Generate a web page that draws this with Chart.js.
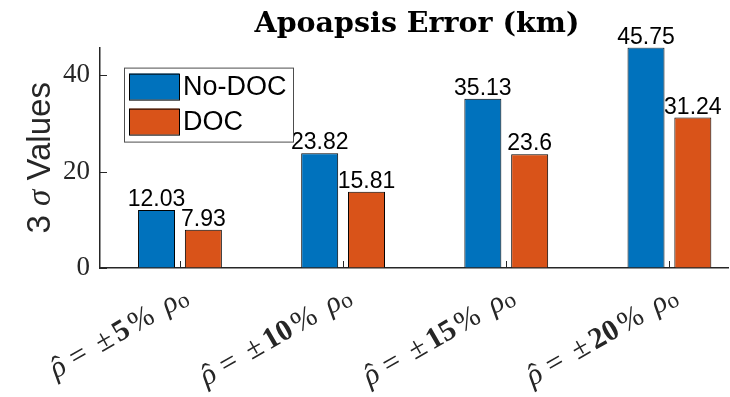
<!DOCTYPE html>
<html>
<head>
<meta charset="utf-8">
<script src="https://cdn.jsdelivr.net/npm/chart.js@4.4.0/dist/chart.umd.min.js"></script>
<style>
  html, body { margin: 0; padding: 0; background: #fff; }
</style>
</head>
<body>
<canvas id="bar-chart" width="730" height="397"></canvas>
<script>
const CHART = document.getElementById("bar-chart");

// data
const percents = ['5', '10', '15', '20'];
const seriesNames = ['No-DOC', 'DOC'];
const noDoc = [12.03, 23.82, 35.13, 45.75];
const doc = [7.93, 15.81, 23.6, 31.24];
const yTicks = [0, 20, 40];

const colors = ['#0072BD', '#D95319'];
const AXIS = '#262626';
const SERIF = '"Liberation Serif"';
const SANS = '"Liberation Sans"';

function points(values) {
  return values.map((v, i) => ({ x: i + 1, y: v }));
}

// draws a run of differently styled text pieces starting at x
function drawPieces(ctx, pieces, x, y) {
  pieces.forEach(p => {
    ctx.font = p.font;
    const w = ctx.measureText(p.text).width;
    ctx.fillText(p.text, x, y + (p.dy || 0));
    if (p.hat) {
      ctx.save();
      ctx.font = p.font.replace('italic ', '');
      ctx.textAlign = 'center';
      ctx.fillText('\u02C6', x + w / 2 + 2, y);
      ctx.restore();
    }
    x += w + (p.gap || 0);
  });
}
function piecesWidth(ctx, pieces) {
  let w = 0;
  pieces.forEach(p => { ctx.font = p.font; w += ctx.measureText(p.text).width + (p.gap || 0); });
  return w;
}

const decorations = {
  id: 'decorations',
  afterDatasetsDraw(chart) {
    const ctx = chart.ctx;
    const area = chart.chartArea;
    const xs = chart.scales.x, ys = chart.scales.y;
    ctx.save();

    // inward tick marks
    ctx.strokeStyle = AXIS;
    ctx.lineWidth = 1;
    yTicks.forEach(t => {
      const y = Math.round(ys.getPixelForValue(t)) + 0.5;
      ctx.beginPath(); ctx.moveTo(area.left, y); ctx.lineTo(area.left + 7, y); ctx.stroke();
    });
    percents.forEach((p, i) => {
      const x = Math.round(xs.getPixelForValue(i + 1)) + 0.5;
      ctx.beginPath(); ctx.moveTo(x, area.bottom); ctx.lineTo(x, area.bottom - 7); ctx.stroke();
    });

    // value labels
    ctx.fillStyle = '#000';
    ctx.font = '23px ' + SANS;
    ctx.textAlign = 'center';
    ctx.textBaseline = 'alphabetic';
    chart.data.datasets.forEach((ds, di) => {
      chart.getDatasetMeta(di).data.forEach((bar, i) => {
        ctx.fillText(String(ds.data[i].y), bar.x, bar.y - 4);
      });
    });

    // rotated category labels
    ctx.fillStyle = AXIS;
    ctx.textAlign = 'left';
    percents.forEach((p, i) => {
      const pieces = [
        { text: '\u03C1', font: 'italic 30px ' + SERIF, hat: true, gap: 8 },
        { text: '=', font: '30px ' + SERIF, gap: 13 },
        { text: '\u00B1', font: '30px ' + SERIF, gap: 4 },
        { text: p, font: 'bold 30px ' + SERIF, gap: 3 },
        { text: '%', font: '30px ' + SERIF, gap: 13 },
        { text: '\u03C1', font: 'italic 30px ' + SERIF },
        { text: 'o', font: '23px ' + SERIF, dy: 3 }
      ];
      const w = piecesWidth(ctx, pieces);
      ctx.save();
      ctx.translate(xs.getPixelForValue(i + 1), area.bottom);
      ctx.rotate(-Math.PI / 6);
      drawPieces(ctx, pieces, -8 - w, 34);
      ctx.restore();
    });

    // y axis title
    ctx.save();
    ctx.fillStyle = AXIS;
    ctx.translate(38, (area.top + area.bottom) / 2);
    ctx.rotate(-Math.PI / 2);
    const yPieces = [
      { text: '3 ', font: '33px ' + SANS },
      { text: '\u03C3', font: 'italic 33px ' + SERIF },
      { text: ' Values', font: '33px ' + SANS }
    ];
    drawPieces(ctx, yPieces, -piecesWidth(ctx, yPieces) / 2, 12);
    ctx.restore();

    // title
    ctx.fillStyle = '#000';
    ctx.font = 'bold 28.5px "DejaVu Serif"';
    ctx.textAlign = 'center';
    ctx.fillText('Apoapsis Error (km)', 417, 32);

    // legend
    const lx = area.left + 24, ly = area.top + 20;
    ctx.fillStyle = '#fff';
    ctx.fillRect(lx, ly, 169, 74);
    ctx.strokeStyle = '#4d4d4d';
    ctx.strokeRect(lx + 0.5, ly + 0.5, 169, 74);
    ctx.textAlign = 'left';
    ctx.textBaseline = 'middle';
    ctx.font = '27px ' + SANS;
    chart.data.datasets.forEach((ds, di) => {
      const sy = ly + 6 + di * 35;
      ctx.fillStyle = ds.backgroundColor;
      ctx.fillRect(lx + 5, sy, 50, 26);
      ctx.strokeStyle = '#000';
      ctx.strokeRect(lx + 5.5, sy + 0.5, 50, 26);
      ctx.fillStyle = '#000';
      ctx.fillText(ds.label, lx + 59, sy + 14);
    });

    ctx.restore();
  }
};

new Chart(CHART, {
  type: 'bar',
  data: {
    datasets: [
      {
        label: seriesNames[0],
        data: points(noDoc),
        backgroundColor: colors[0],
        borderColor: '#000',
        borderWidth: 1,
        barPercentage: 0.79,
        categoryPercentage: 0.574
      },
      {
        label: seriesNames[1],
        data: points(doc),
        backgroundColor: colors[1],
        borderColor: '#000',
        borderWidth: 1,
        barPercentage: 0.79,
        categoryPercentage: 0.574
      }
    ]
  },
  options: {
    responsive: false,
    animation: false,
    events: [],
    layout: { padding: { top: 47.6, right: 2, left: 0, bottom: 0 } },
    plugins: {
      legend: { display: false },
      title: { display: false },
      tooltip: { enabled: false }
    },
    scales: {
      x: {
        type: 'linear',
        offset: false,
        min: 0.51,
        max: 4.359,
        ticks: { display: false, stepSize: 1, includeBounds: false },
        grid: { drawOnChartArea: false, drawTicks: false },
        border: { display: true, color: AXIS, width: 1.5 },
        afterFit(s) { s.height = 129; }
      },
      y: {
        min: 0,
        max: 45.75,
        ticks: {
          stepSize: 20,
          includeBounds: false,
          padding: 10,
          color: AXIS,
          font: { family: 'Liberation Serif', size: 27 }
        },
        grid: { drawOnChartArea: false, drawTicks: false },
        border: { display: true, color: AXIS, width: 1.5 },
        afterFit(s) { s.width = 100; }
      }
    }
  },
  plugins: [decorations]
});
</script>
</body>
</html>
